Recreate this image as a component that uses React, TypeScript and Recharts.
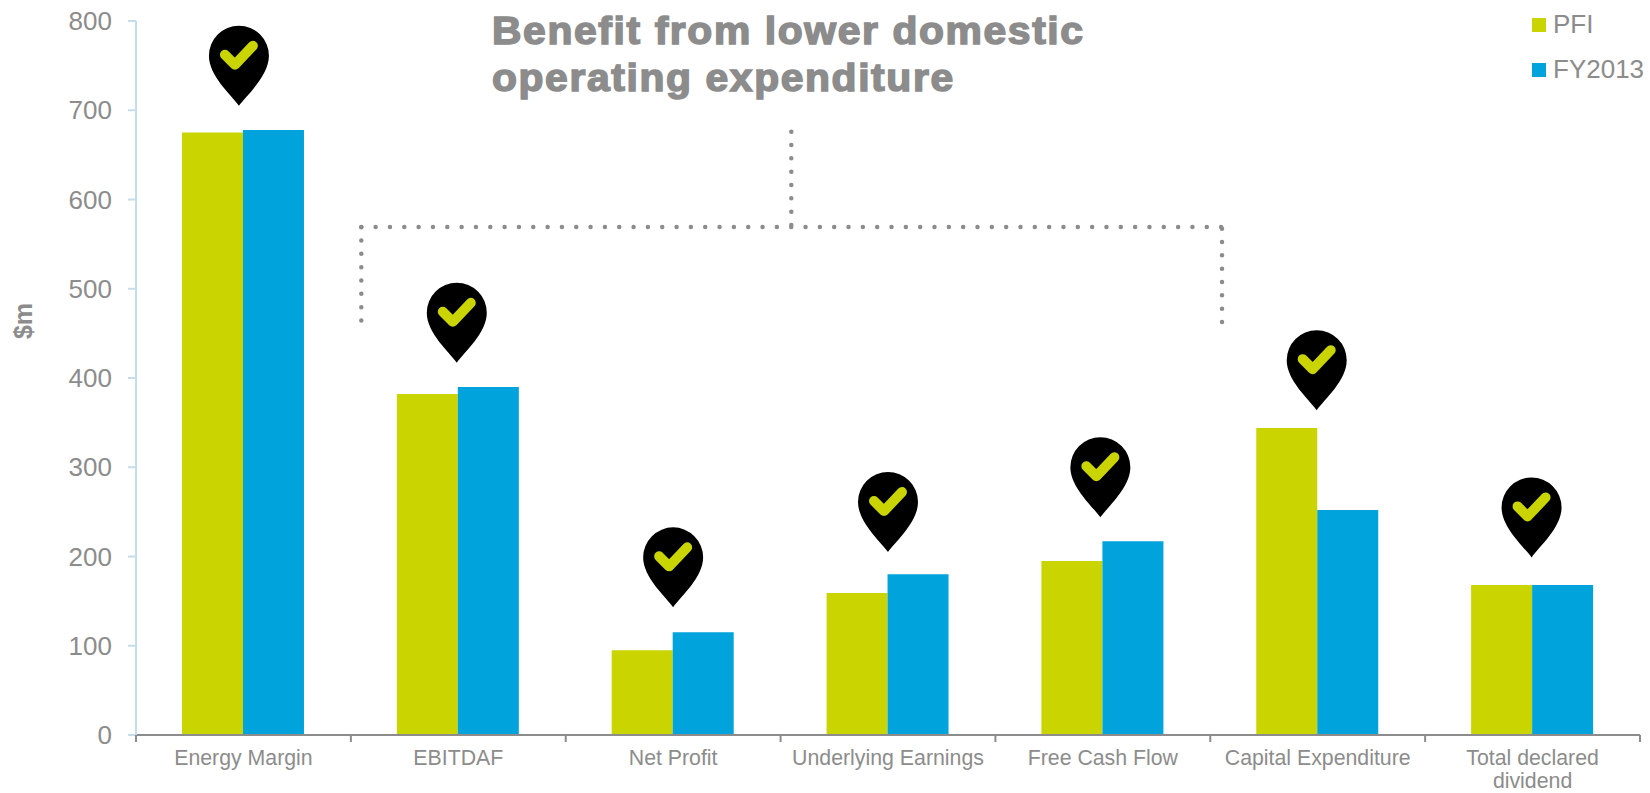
import { Bar, BarChart, Legend, ReferenceDot, XAxis, YAxis } from 'recharts';

const categories = [
  'Energy Margin',
  'EBITDAF',
  'Net Profit',
  'Underlying Earnings',
  'Free Cash Flow',
  'Capital Expenditure',
  'Total declared dividend',
];
const pfiValues = [675, 382, 95, 159, 195, 344, 168];
const fy2013Values = [678, 390, 115, 180, 217, 252, 168];
// y-axis value each map pin's tip points at
const pinTips = [705, 417, 143, 205, 244, 364, 199];
const yTicks = [0, 100, 200, 300, 400, 500, 600, 700, 800];

const rows = categories.map((name, i) => ({ name, pfi: pfiValues[i], fy2013: fy2013Values[i] }));

const GREY = '#8c8c8c';
const GREEN = '#c9d400';
const BLUE = '#00a3dc';
const FONT = '"Liberation Sans", Arial, sans-serif';

// pins sit a touch left of the category centre, hand placed on the slide
const PIN_NUDGE = [-4.5, -1.5, 0, 0, -2.5, -1, -1];

// greedy wrap, anything past 20 characters goes onto a new line
function wrapLabel(label: string) {
  const lines: string[] = [];
  for (const word of label.split(' ')) {
    const last = lines[lines.length - 1];
    if (last !== undefined && `${last} ${word}`.length <= 20) lines[lines.length - 1] = `${last} ${word}`;
    else lines.push(word);
  }
  return lines;
}

function Pin({ cx, cy, nudge }: { cx?: number; cy?: number; nudge: number }) {
  const x = (cx ?? 0) + nudge;
  const y = cy ?? 0;
  return (
    <g transform={`translate(${x} ${y})`}>
      <path d="M0 0 C-8 -11 -30 -30 -30 -50 A30 30 0 1 1 30 -50 C30 -30 8 -11 0 0 Z" fill="#000" />
      <path
        d="M-14 -51 L-4 -41 L14 -60"
        fill="none"
        stroke={GREEN}
        strokeWidth={10}
        strokeLinecap="round"
        strokeLinejoin="round"
      />
    </g>
  );
}

// label under the band, with the tick marks on the band edges rather than its centre
function CategoryTick({ x, y, width, index, visibleTicksCount, payload }: any) {
  const half = width / visibleTicksCount / 2;
  return (
    <g>
      <line x1={x - half} x2={x - half} y1={y} y2={y + 7} stroke={GREY} strokeWidth={2} />
      {index === visibleTicksCount - 1 && (
        <line x1={x + half} x2={x + half} y1={y} y2={y + 7} stroke={GREY} strokeWidth={2} />
      )}
      <text x={x} y={y + 30} textAnchor="middle" fontSize={21.3} fontFamily={FONT} fill={GREY}>
        {wrapLabel(payload.value).map((line, i) => (
          <tspan key={line} x={x} dy={i === 0 ? 0 : 23}>
            {line}
          </tspan>
        ))}
      </text>
    </g>
  );
}

function SeriesKey({ payload }: any) {
  return (
    <div style={{ fontFamily: FONT, fontSize: 26, color: GREY }}>
      {(payload ?? []).map((entry: any) => (
        <div key={entry.value} style={{ display: 'flex', alignItems: 'center', height: 45 }}>
          <span style={{ width: 14, height: 14, background: entry.color, marginRight: 7 }} />
          {entry.value}
        </div>
      ))}
    </div>
  );
}

export default function App() {
  return (
    <div style={{ position: 'absolute', left: 0, top: 0, width: 1650, height: 793, background: '#fff', overflow: 'hidden' }}>
      <BarChart
        width={1650}
        height={793}
        data={rows}
        // the key takes 118px off the plot on the right, but it floats over the top corner
        margin={{ top: 21, right: -108, left: 0, bottom: 0 }}
        barCategoryGap="21.4%"
        barGap={0}
      >
        <XAxis
          dataKey="name"
          height={58}
          interval={0}
          stroke={GREY}
          strokeWidth={2}
          tickLine={false}
          tickSize={0}
          tickMargin={0}
          tick={<CategoryTick />}
        />
        <YAxis
          width={136}
          domain={[0, 800]}
          ticks={yTicks}
          interval={0}
          stroke="#c5dcea"
          strokeWidth={2}
          tickSize={8}
          tickMargin={16}
          tick={{ fontSize: 26, fontFamily: FONT, fill: GREY }}
          label={{
            value: '$m',
            angle: -90,
            position: 'insideLeft',
            dx: 18,
            dy: -57,
            style: { fontSize: 25, fontWeight: 700, fontFamily: FONT, fill: GREY, textAnchor: 'middle' },
          }}
        />
        <Legend
          layout="vertical"
          align="right"
          verticalAlign="top"
          width={118}
          itemSorter={null}
          content={<SeriesKey />}
          wrapperStyle={{ left: 1532, top: 2, width: 118 }}
        />
        <Bar dataKey="pfi" name="PFI" fill={GREEN} isAnimationActive={false} />
        <Bar dataKey="fy2013" name="FY2013" fill={BLUE} isAnimationActive={false} />
        {categories.map((name, i) => (
          <ReferenceDot
            key={name}
            x={name}
            y={pinTips[i]}
            ifOverflow="visible"
            shape={<Pin nudge={PIN_NUDGE[i]} />}
          />
        ))}
      </BarChart>
      <svg
        width={1650}
        height={793}
        style={{ position: 'absolute', left: 0, top: 0, pointerEvents: 'none' }}
      >
        {/* bracket joining the four middle measures to the heading */}
        <g fill="none" stroke={GREY} strokeWidth={4.5} strokeLinecap="round">
          <path d="M361.3 227 H1222" strokeDasharray="0 14.33" />
          <path d="M361.3 320.5 V227" strokeDasharray="0 13.33" />
          <path d="M1222 322 V227" strokeDasharray="0 13.33" />
          <path d="M791.3 131.7 V227" strokeDasharray="0 13.33" />
        </g>
        {/* heading is a wide heavy face, so stretch the bold sans sideways */}
        <text
          transform="translate(492 0) scale(1.075 1)"
          fontFamily={FONT}
          fontWeight={700}
          fontSize={38}
          letterSpacing={1.5}
          fill={GREY}
          stroke={GREY}
          strokeWidth={1.5}
        >
          <tspan x={0} y={44}>Benefit from lower domestic</tspan>
          <tspan x={0} y={91}>operating expenditure</tspan>
        </text>
      </svg>
    </div>
  );
}
